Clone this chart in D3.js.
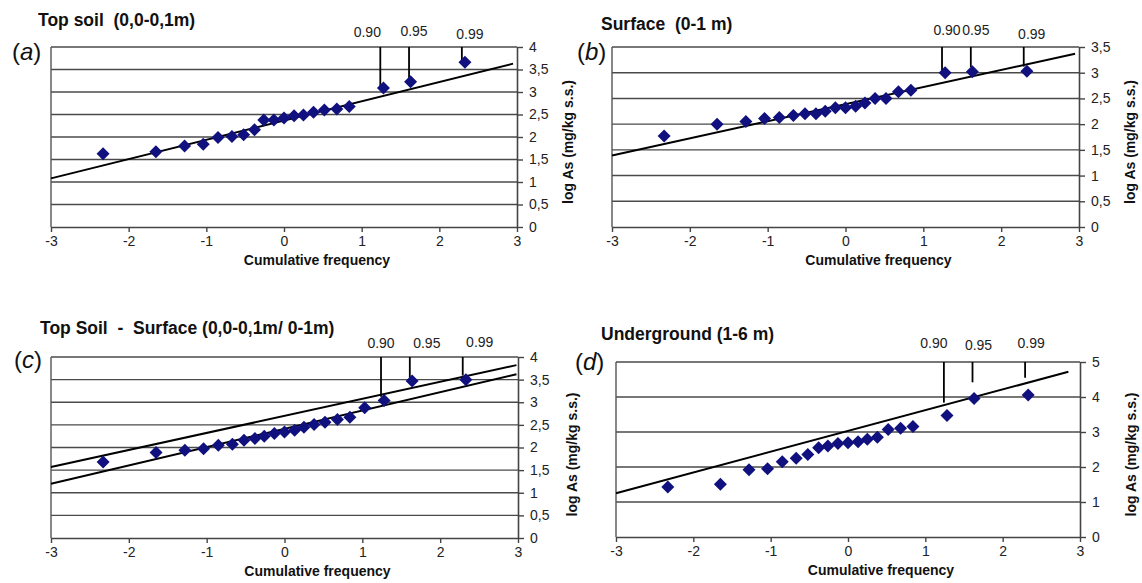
<!DOCTYPE html>
<html>
<head>
<meta charset="utf-8">
<script src="https://cdn.jsdelivr.net/npm/d3@7"></script>
<style>
  body { margin: 0; background: #fff; }
  svg { display: block; }
  .tick-label { font-family: 'Liberation Sans Narrow', 'Arial Narrow', 'Liberation Sans', Arial, sans-serif; font-size: 14px; fill: #222; }
  .bold { font-family: 'Liberation Sans', Arial, sans-serif; font-weight: bold; fill: #111; }
</style>
</head>
<body>
<svg id="chart" width="1142" height="583"></svg>
<script>
// normal scores (x)
var scores20 = [-2.33, -1.65, -1.28, -1.04, -0.85, -0.67, -0.52, -0.38, -0.26, -0.13, 0, 0.13, 0.25, 0.38, 0.52, 0.68, 0.84, 1.28, 1.63, 2.33]
var scores21 = [-2.33, -1.65, -1.28, -1.04, -0.85, -0.67, -0.52, -0.38, -0.26, -0.13, 0, 0.13, 0.25, 0.38, 0.52, 0.68, 0.84, 1.03, 1.28, 1.64, 2.33]

// log As values per panel
var topSoil = [1.63, 1.67, 1.80, 1.84, 1.99, 2.01, 2.05, 2.16, 2.38, 2.38, 2.42, 2.47, 2.49, 2.55, 2.60, 2.62, 2.68, 3.09, 3.23, 3.66]
var surface = [1.77, 2.00, 2.05, 2.11, 2.13, 2.17, 2.20, 2.20, 2.25, 2.32, 2.32, 2.35, 2.41, 2.50, 2.50, 2.63, 2.66, 3.00, 3.02, 3.03]
var topSurface = [1.68, 1.89, 1.94, 1.97, 2.05, 2.07, 2.16, 2.20, 2.25, 2.31, 2.34, 2.38, 2.45, 2.51, 2.56, 2.62, 2.67, 2.88, 3.04, 3.47, 3.50]
var underground = [1.43, 1.51, 1.92, 1.95, 2.15, 2.25, 2.36, 2.55, 2.60, 2.67, 2.69, 2.72, 2.79, 2.85, 3.07, 3.11, 3.16, 3.47, 3.96, 4.06]

// fitted lines, endpoints in data units
var fitTopSoil = [[[-3, 1.08], [2.95, 3.63]]]
var fitSurface = [[[-3, 1.39], [2.95, 3.37]]]
var fitTopSurface = [[[-3, 1.57], [2.98, 3.82]], [[-3, 1.20], [2.98, 3.62]]]
var fitUnderground = [[[-3, 1.25], [2.85, 4.72]]]

// threshold markers
var markerLabels = ['0.90', '0.95', '0.99']
var markerX = [1.24, 1.61, 2.29]
var markerEndTopSoil = [3.11, 3.27, 3.71]
var markerEndSurface = [3.04, 3.11, 3.12]
var markerEndTopSurface = [3.12, 3.54, 3.59]
var markerEndUnderground = [3.84, 4.42, 4.55]

// ticks
var xTicks = [-3, -2, -1, 0, 1, 2, 3]
var yTicksHalf4 = [0, 0.5, 1, 1.5, 2, 2.5, 3, 3.5, 4]
var yTicksHalf35 = [0, 0.5, 1, 1.5, 2, 2.5, 3, 3.5]
var yTicksUnit5 = [0, 1, 2, 3, 4, 5]

var titles = ['Top soil  (0,0-0,1m)', 'Surface  (0-1 m)', 'Top Soil  -  Surface (0,0-0,1m/ 0-1m)', 'Underground (1-6 m)']
var letters = ['a', 'b', 'c', 'd']
var xLabel = 'Cumulative frequency'
var yLabel = 'log As (mg/kg s.s.)'

var panels = [
  { x0: 51, x1: 517, top: 47, bottom: 227, ymax: 4, yTicks: yTicksHalf4, xs: scores20, ys: topSoil, fits: fitTopSoil,
    ends: markerEndTopSoil, title: titles[0], letter: letters[0], leftLabel: false,
    titlePos: [38, 26], letterPos: [12, 60], labelBase: 37, labelDx: [-13, 5, 8], labelDy: [0, -1, 2] },
  { x0: 612, x1: 1079, top: 47, bottom: 227, ymax: 3.5, yTicks: yTicksHalf35, xs: scores20, ys: surface, fits: fitSurface,
    ends: markerEndSurface, title: titles[1], letter: letters[1], leftLabel: true,
    titlePos: [601, 30], letterPos: [577, 60], labelBase: 35, labelDx: [5, 5, 8], labelDy: [0, 0, 4] },
  { x0: 51, x1: 518, top: 357, bottom: 538, ymax: 4, yTicks: yTicksHalf4, xs: scores21, ys: topSurface, fits: fitTopSurface,
    ends: markerEndTopSurface, title: titles[2], letter: letters[2], leftLabel: false,
    titlePos: [40, 334], letterPos: [14, 368], labelBase: 348, labelDx: [0, 17, 17], labelDy: [0, 0, -1] },
  { x0: 616, x1: 1080, top: 362, bottom: 537, ymax: 5, yTicks: yTicksUnit5, xs: scores20, ys: underground, fits: fitUnderground,
    ends: markerEndUnderground, title: titles[3], letter: letters[3], leftLabel: true,
    titlePos: [601, 340], letterPos: [575, 370], labelBase: 348, labelDx: [-10, 6, 6], labelDy: [0, 2, 0] }
]

var svg = d3.select('#chart')

// comma as decimal sign, plain hyphen for minus
function fmt(d) {
  return String(d).replace('.', ',')
}

function diamond(s) {
  return 'M0,' + -s + 'L' + s + ',0L0,' + s + 'L' + -s + ',0Z'
}

function drawPanel(p) {
  var x = d3.scaleLinear().domain([-3, 3]).range([p.x0, p.x1])
  var y = d3.scaleLinear().domain([0, p.ymax]).range([p.bottom, p.top])
  var g = svg.append('g')

  // horizontal grid
  g.append('g')
    .selectAll('line')
    .data(p.yTicks.filter(function(d) { return d > 0 }))
    .enter()
    .append('line')
    .attr('x1', p.x0)
    .attr('x2', p.x1)
    .attr('y1', function(d) { return y(d) })
    .attr('y2', function(d) { return y(d) })
    .attr('stroke', '#4a4a4a')
    .attr('stroke-width', 1.4)

  // left border
  g.append('line')
    .attr('x1', p.x0).attr('x2', p.x0)
    .attr('y1', p.top).attr('y2', p.bottom)
    .attr('stroke', '#555').attr('stroke-width', 1.4)

  // bottom axis
  var xAxis = g.append('g')
    .attr('transform', 'translate(0,' + p.bottom + ')')
    .call(d3.axisBottom(x).tickValues(xTicks).tickFormat(fmt).tickSize(5).tickPadding(4).tickSizeOuter(0))
  xAxis.select('.domain').attr('stroke', '#444').attr('stroke-width', 1.6)
  xAxis.selectAll('.tick line').attr('stroke', '#444').attr('stroke-width', 1.4)
  xAxis.selectAll('.tick text').attr('class', 'tick-label').attr('fill', '#222')

  // right axis
  var yAxis = g.append('g')
    .attr('transform', 'translate(' + p.x1 + ',0)')
    .call(d3.axisRight(y).tickValues(p.yTicks).tickFormat(fmt).tickSize(6).tickPadding(6).tickSizeOuter(0))
  yAxis.select('.domain').attr('stroke', '#444').attr('stroke-width', 1.6)
  yAxis.selectAll('.tick line').attr('stroke', '#444').attr('stroke-width', 1.4)
  yAxis.selectAll('.tick text').attr('class', 'tick-label').attr('fill', '#222')

  // fitted lines
  var line = d3.line()
    .x(function(d) { return x(d[0]) })
    .y(function(d) { return y(d[1]) })
  g.selectAll('.fit')
    .data(p.fits)
    .enter()
    .append('path')
    .attr('class', 'fit')
    .attr('d', line)
    .attr('fill', 'none')
    .attr('stroke', '#000')
    .attr('stroke-width', 2)

  // threshold markers
  markerX.forEach(function(mx, i) {
    g.append('line')
      .attr('x1', x(mx)).attr('x2', x(mx))
      .attr('y1', p.top).attr('y2', y(p.ends[i]))
      .attr('stroke', '#000')
      .attr('stroke-width', 1.8)
    g.append('text')
      .attr('class', 'tick-label')
      .attr('x', x(mx) + p.labelDx[i])
      .attr('y', p.labelBase + p.labelDy[i])
      .attr('text-anchor', 'middle')
      .text(markerLabels[i])
  })

  // points
  g.selectAll('.pt')
    .data(p.ys)
    .enter()
    .append('path')
    .attr('class', 'pt')
    .attr('d', diamond(6.5))
    .attr('transform', function(d, i) { return 'translate(' + x(p.xs[i]) + ',' + y(d) + ')' })
    .attr('fill', '#10107e')

  // titles and labels
  g.append('text')
    .attr('class', 'bold')
    .attr('x', p.titlePos[0])
    .attr('y', p.titlePos[1])
    .style('font-size', '17.5px')
    .attr('xml:space', 'preserve')
    .text(p.title)

  var letter = g.append('text')
    .attr('x', p.letterPos[0])
    .attr('y', p.letterPos[1])
    .style('font-family', "'Liberation Sans', Arial, sans-serif")
    .style('font-size', '24px')
    .attr('fill', '#111')
  letter.append('tspan').text('(')
  letter.append('tspan').style('font-style', 'italic').text(p.letter)
  letter.append('tspan').text(')')

  g.append('text')
    .attr('class', 'bold')
    .attr('x', (p.x0 + p.x1) / 2 + 33)
    .attr('y', p.bottom + 38)
    .attr('text-anchor', 'middle')
    .style('font-size', '14px')
    .text(xLabel)

  var yc = (p.top + p.bottom) / 2 + 5
  if (p.leftLabel) {
    g.append('text')
      .attr('class', 'bold')
      .attr('transform', 'translate(' + (p.x1 + 56) + ',' + yc + ') rotate(-90)')
      .attr('text-anchor', 'middle')
      .style('font-size', '14px')
      .text(yLabel)
    g.append('text')
      .attr('class', 'bold')
      .attr('transform', 'translate(' + (p.x0 - 39) + ',' + yc + ') rotate(-90)')
      .attr('text-anchor', 'middle')
      .style('font-size', '14px')
      .text(yLabel)
  }
}

panels.forEach(drawPanel)
</script>
</body>
</html>
